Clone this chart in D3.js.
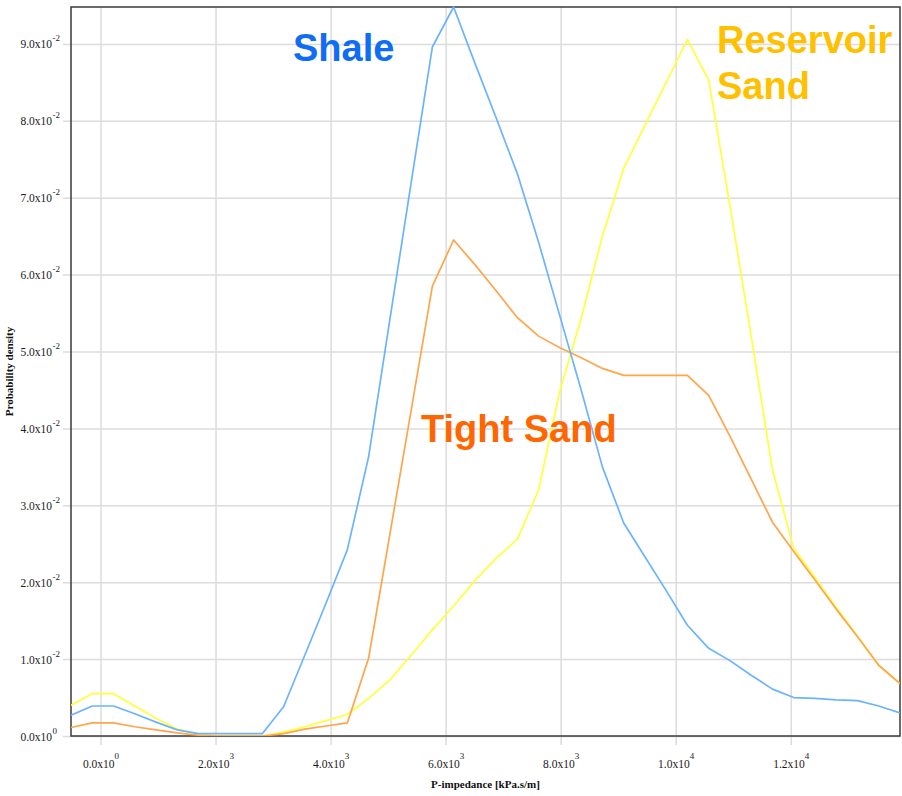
<!DOCTYPE html>
<html>
<head>
<meta charset="utf-8">
<script src="https://cdn.jsdelivr.net/npm/d3@7"></script>
<style>
  html, body { margin: 0; padding: 0; background: #ffffff; }
  svg { display: block; }
</style>
</head>
<body>
<svg id="chart" width="902" height="796"></svg>
<script>
// P-impedance bin centres (kPa.s/m)
const impedance = [
  -513, -143, 226, 596, 965, 1335, 1704, 2074, 2443, 2813,
  3183, 3552, 3922, 4291, 4661, 5030, 5400, 5770, 6139, 6509,
  6878, 7248, 7617, 7987, 8357, 8726, 9096, 9465, 9835, 10204,
  10574, 10943, 11313, 11683, 12052, 12422, 12791, 13161, 13530, 13900
];

// Probability density per facies
const shale = [
  0.0027, 0.0039, 0.0039, 0.0029, 0.0018, 0.0008, 0.0003, 0.0003, 0.0003, 0.0003,
  0.0038, 0.0105, 0.0173, 0.0242, 0.0363, 0.0541, 0.0719, 0.0896, 0.0948, 0.0875,
  0.0804, 0.0731, 0.0642, 0.0546, 0.0450, 0.0350, 0.0277, 0.0233, 0.0189, 0.0144,
  0.0114, 0.0098, 0.0079, 0.0061, 0.0050, 0.0049, 0.0047, 0.0046, 0.0039, 0.0030
];
const tightSand = [
  0.0011, 0.0017, 0.0017, 0.0012, 0.0008, 0.0004, 0.0001, 0.0000, 0.0000, 0.0000,
  0.0003, 0.0009, 0.0013, 0.0017, 0.0101, 0.0262, 0.0423, 0.0585, 0.0645, 0.0613,
  0.0579, 0.0544, 0.0520, 0.0505, 0.0492, 0.0478, 0.0469, 0.0469, 0.0469, 0.0469,
  0.0443, 0.0390, 0.0334, 0.0278, 0.0240, 0.0203, 0.0165, 0.0129, 0.0092, 0.0068
];
const reservoirSand = [
  0.0040, 0.0055, 0.0055, 0.0039, 0.0023, 0.0009, 0.0002, 0.0000, 0.0000, 0.0000,
  0.0005, 0.0012, 0.0020, 0.0028, 0.0049, 0.0073, 0.0105, 0.0138, 0.0169, 0.0202,
  0.0231, 0.0256, 0.0320, 0.0449, 0.0543, 0.0650, 0.0738, 0.0794, 0.0850, 0.0906,
  0.0853, 0.0690, 0.0520, 0.0346, 0.0244, 0.0206, 0.0167, 0.0130, 0.0092, 0.0068
];

// Axis ticks, written as mantissa x 10^exponent
const xTicks = [0, 2000, 4000, 6000, 8000, 10000, 12000];
const xTickMantissa = ["0.0", "2.0", "4.0", "6.0", "8.0", "1.0", "1.2"];
const xTickExponent = ["0", "3", "3", "3", "3", "4", "4"];
const yTicks = [0, 0.01, 0.02, 0.03, 0.04, 0.05, 0.06, 0.07, 0.08, 0.09];
const yTickMantissa = ["0.0", "1.0", "2.0", "3.0", "4.0", "5.0", "6.0", "7.0", "8.0", "9.0"];
const yTickExponent = ["0", "-2", "-2", "-2", "-2", "-2", "-2", "-2", "-2", "-2"];

const seriesNames = ["Reservoir Sand", "Tight Sand", "Shale"];
const seriesValues = [reservoirSand, tightSand, shale];
const lineColors = ["#FFFF3C", "#FFA54A", "#6AB4FF"];
const labelColors = ["#FFC000", "#FF6600", "#0F6CF5"];

const xTitle = "P-impedance [kPa.s/m]";
const yTitle = "Probability density";

// ---- layout ----
const plot = { left: 71, right: 900, top: 7, bottom: 736 };
const pw = plot.right - plot.left;
const ph = plot.bottom - plot.top;

const svg = d3.select("#chart");

const x = d3.scaleLinear()
  .domain(d3.extent(impedance))
  .range([plot.left, plot.right]);
const y = d3.scaleLinear()
  .domain([0, d3.max(shale)])
  .range([plot.bottom, plot.top]);

const gridColor = "#DCDCDC";
const serif = "'Liberation Serif', 'Times New Roman', serif";
const sans = "'Liberation Sans', Arial, sans-serif";

// vertical grid lines, extending below the frame as tick marks
const gx = svg.append("g")
  .attr("transform", `translate(0,${plot.bottom + 9})`)
  .call(d3.axisBottom(x).tickValues(xTicks).tickSize(-(ph + 9)).tickFormat(""));
gx.select(".domain").remove();
gx.selectAll(".tick line").attr("stroke", gridColor).attr("stroke-width", 1.5);

// horizontal grid lines, extending left of the frame as tick marks
const gy = svg.append("g")
  .attr("transform", `translate(${plot.left - 8},0)`)
  .call(d3.axisLeft(y).tickValues(yTicks).tickSize(-(pw + 8)).tickFormat(""));
gy.select(".domain").remove();
gy.selectAll(".tick line").attr("stroke", gridColor).attr("stroke-width", 1.5);

// x tick labels with superscript exponents
gx.selectAll(".tick").each(function (d) {
  const i = xTicks.indexOf(d);
  const t = d3.select(this).append("text")
    .attr("x", 0)
    .attr("y", 768 - (plot.bottom + 9))
    .attr("text-anchor", "middle")
    .attr("font-family", serif)
    .attr("font-size", "11.5px")
    .attr("fill", "#1a1a1a");
  t.append("tspan").text(xTickMantissa[i] + "x10");
  t.append("tspan").attr("dy", -9).attr("font-size", "9px").text(xTickExponent[i]);
});

// y tick labels with superscript exponents
gy.selectAll(".tick").each(function (d) {
  const i = yTicks.indexOf(d);
  const g = d3.select(this);
  g.append("text")
    .attr("x", -11)
    .attr("y", 4)
    .attr("text-anchor", "end")
    .attr("font-family", serif)
    .attr("font-size", "11.5px")
    .attr("fill", "#1a1a1a")
    .text(yTickMantissa[i] + "x10");
  g.append("text")
    .attr("x", -10.5)
    .attr("y", -3)
    .attr("text-anchor", "start")
    .attr("font-family", serif)
    .attr("font-size", "9px")
    .attr("fill", "#1a1a1a")
    .text(yTickExponent[i]);
});

// plot frame
svg.append("rect")
  .attr("x", plot.left)
  .attr("y", plot.top)
  .attr("width", pw)
  .attr("height", ph)
  .attr("fill", "none")
  .attr("stroke", "#3a3a3a")
  .attr("stroke-width", 1.5);

// density curves
svg.append("clipPath").attr("id", "plot-clip")
  .append("rect")
  .attr("x", plot.left).attr("y", plot.top - 1)
  .attr("width", pw).attr("height", ph + 1);

const line = d3.line()
  .x(d => x(d[0]))
  .y(d => y(d[1]));

const curves = svg.append("g").attr("clip-path", "url(#plot-clip)");
seriesValues.forEach((vals, s) => {
  curves.append("path")
    .datum(impedance.map((v, i) => [v, vals[i]]))
    .attr("fill", "none")
    .attr("stroke", lineColors[s])
    .attr("stroke-width", 1.7)
    .attr("stroke-linejoin", "round")
    .attr("d", line);
});

// facies labels
const bigLabel = (txt, px, py, color) =>
  svg.append("text")
    .attr("x", px).attr("y", py)
    .attr("font-family", sans)
    .attr("font-weight", "bold")
    .attr("font-size", "38px")
    .attr("fill", color)
    .text(txt);

bigLabel("Shale", 293, 61, labelColors[2]);
bigLabel("Reservoir", 717, 53, labelColors[0]);
bigLabel("Sand", 717, 99, labelColors[0]);
bigLabel("Tight Sand", 421, 442, labelColors[1]);

// axis titles
svg.append("text")
  .attr("x", (plot.left + plot.right) / 2)
  .attr("y", 788)
  .attr("text-anchor", "middle")
  .attr("font-family", serif)
  .attr("font-weight", "bold")
  .attr("font-size", "11px")
  .attr("fill", "#111")
  .text(xTitle);

svg.append("text")
  .attr("transform", `translate(13,${(plot.top + plot.bottom) / 2}) rotate(-90)`)
  .attr("text-anchor", "middle")
  .attr("font-family", serif)
  .attr("font-weight", "bold")
  .attr("font-size", "11px")
  .attr("fill", "#111")
  .text(yTitle);
</script>
</body>
</html>
